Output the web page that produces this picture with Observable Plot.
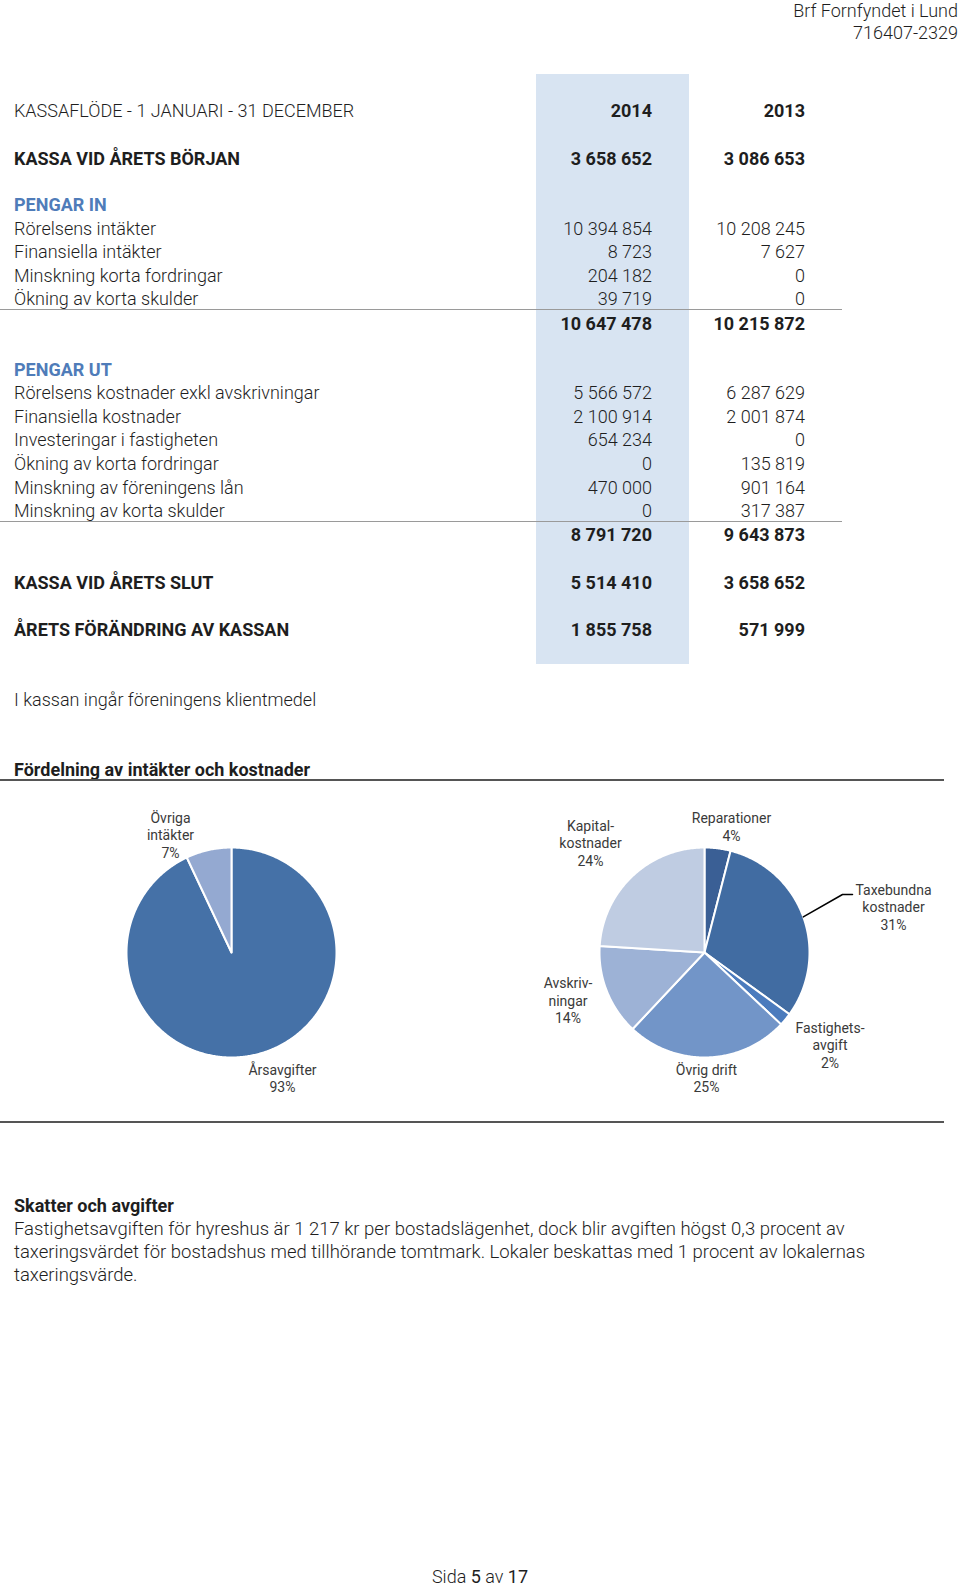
<!DOCTYPE html>
<html>
<head>
<meta charset="utf-8">
<script src="https://cdn.jsdelivr.net/npm/d3@7"></script>
<script src="https://cdn.jsdelivr.net/npm/@observablehq/plot@0.6"></script>
<style>
  html, body { margin: 0; padding: 0; background: #fff; }
  #page { position: relative; width: 960px; height: 1587px; overflow: hidden; font-family: Roboto, "Open Sans", sans-serif; color: #1e1e1e; }
  .t { position: absolute; white-space: nowrap; height: 24px; line-height: 24px; font-size: 18px; font-weight: 300; }
  .b { font-weight: 700; }
  .blue { color: #4f7cb9; font-weight: 700; }
  .r { text-align: right; }
  .p { font-size: 18.5px; }
  .hd { height: 20px; line-height: 20px; }
  .hr { position: absolute; left: 0; }
  #pies { position: absolute; left: 0; top: 785px; }
</style>
</head>
<body>
<div id="page"></div>
<script>
// ---------- data ----------
const years = ["2014", "2013"];
const openingCash = [3658652, 3086653];
const inLabels = ["Rörelsens intäkter", "Finansiella intäkter", "Minskning korta fordringar", "Ökning av korta skulder"];
const in2014 = [10394854, 8723, 204182, 39719];
const in2013 = [10208245, 7627, 0, 0];
const inTotal = [10647478, 10215872];
const outLabels = ["Rörelsens kostnader exkl avskrivningar", "Finansiella kostnader", "Investeringar i fastigheten", "Ökning av korta fordringar", "Minskning av föreningens lån", "Minskning av korta skulder"];
const out2014 = [5566572, 2100914, 654234, 0, 470000, 0];
const out2013 = [6287629, 2001874, 0, 135819, 901164, 317387];
const outTotal = [8791720, 9643873];
const closingCash = [5514410, 3658652];
const cashChange = [1855758, 571999];

const incomeCats = ["Årsavgifter", "Övriga intäkter"];
const incomeLabels = ["Årsavgifter", "Övriga\nintäkter"];
const incomeValues = [93, 7];
const costCats = ["Reparationer", "Taxebundna kostnader", "Fastighetsavgift", "Övrig drift", "Avskrivningar", "Kapitalkostnader"];
const costLabels = ["Reparationer", "Taxebundna\nkostnader", "Fastighets-\navgift", "Övrig drift", "Avskriv-\nningar", "Kapital-\nkostnader"];
const costValues = [4, 31, 2, 25, 14, 24];

// ---------- styles / layout ----------
const incomeColors = ["#4571a7", "#94a9d1"];
const costColors = ["#3a5f95", "#416ca2", "#4b7bbd", "#7295c8", "#9db2d6", "#bfcce2"];

const page = document.getElementById("page");
const fmt = v => d3.format(",")(v).replace(/,/g, " ");

function txt(s, x, y, cls = "", align = "left", w = 400) {
  const d = document.createElement("div");
  d.className = "t " + cls;
  d.textContent = s;
  const half = cls.includes("hd") ? 10 : 12;
  d.style.top = (y - half + 1.5) + "px";
  if (align === "right") { d.style.left = (x - w) + "px"; d.style.width = w + "px"; d.classList.add("r"); }
  else if (align === "center") { d.style.left = (x - w / 2) + "px"; d.style.width = w + "px"; d.style.textAlign = "center"; }
  else d.style.left = x + "px";
  page.appendChild(d);
  return d;
}
function rect(x, y, w, h, color) {
  const d = document.createElement("div");
  d.className = "hr";
  Object.assign(d.style, { left: x + "px", top: y + "px", width: w + "px", height: h + "px", background: color });
  page.appendChild(d);
}

// highlighted column
rect(536, 74, 153, 590, "#d8e4f2");

// header
txt("Brf Fornfyndet i Lund", 958, 9, "hd", "right");
txt("716407-2329", 958, 31, "hd", "right");

const LX = 14, C1 = 652, C2 = 805;
function row(label, y, v, cls = "", labelCls = cls) {
  txt(label, LX, y, labelCls);
  if (v) { txt(v[0], C1, y, cls, "right", 150); txt(v[1], C2, y, cls, "right", 150); }
}
row("KASSAFLÖDE - 1 JANUARI - 31 DECEMBER", 109, years, "b", "");
row("KASSA VID ÅRETS BÖRJAN", 157, openingCash.map(fmt), "b");
row("PENGAR IN", 203, null, "blue");
const inY = [227, 250, 274, 297];
inLabels.forEach((l, i) => row(l, inY[i], [fmt(in2014[i]), fmt(in2013[i])]));
rect(0, 309, 842, 1, "#9a9a9a");
row("", 322, inTotal.map(fmt), "b");
row("PENGAR UT", 368, null, "blue");
const outY = [391, 415, 438, 462, 486, 509];
outLabels.forEach((l, i) => row(l, outY[i], [fmt(out2014[i]), fmt(out2013[i])]));
rect(0, 521, 842, 1, "#9a9a9a");
row("", 533, outTotal.map(fmt), "b");
row("KASSA VID ÅRETS SLUT", 581, closingCash.map(fmt), "b");
row("ÅRETS FÖRÄNDRING AV KASSAN", 628, cashChange.map(fmt), "b");

txt("I kassan ingår föreningens klientmedel", LX, 698);
txt("Fördelning av intäkter och kostnader", LX, 768, "b");
rect(0, 779, 944, 2, "#555");
rect(0, 1121, 944, 2, "#555");

txt("Skatter och avgifter", LX, 1204, "b");
txt("Fastighetsavgiften för hyreshus är 1 217 kr per bostadslägenhet, dock blir avgiften högst 0,3 procent av", LX, 1227, "p");
txt("taxeringsvärdet för bostadshus med tillhörande tomtmark. Lokaler beskattas med 1 procent av lokalernas", LX, 1250, "p");
txt("taxeringsvärde.", LX, 1273, "p");

const foot = txt("", 480, 1575, "", "center", 200);
foot.innerHTML = 'Sida <b>5</b> av <b>17</b>';

// ---------- pies ----------
const H = 325;
const R = 105;
const pies = [
  { cx: 231, cy: 167, cats: incomeCats, labels: incomeLabels, values: incomeValues,
    labelPos: [[282, 292.5], [170, 49]] },
  { cx: 704, cy: 167, cats: costCats, labels: costLabels, values: costValues,
    labelPos: [[731, 41], [893, 121], [829.5, 259], [706, 292.5], [567.5, 214.5], [590, 57]] }
];

const slicePts = [];
const labelRows = [];
let leader = [];
for (const p of pies) {
  const arcs = d3.pie().sort(null).value(d => d)(p.values);
  arcs.forEach((a, i) => {
    const cat = p.cats[i];
    slicePts.push({ cat, x: p.cx, y: p.cy });
    const n = Math.max(2, Math.ceil((a.endAngle - a.startAngle) / 0.01));
    for (let k = 0; k <= n; k++) {
      const t = a.startAngle + (a.endAngle - a.startAngle) * k / n;
      slicePts.push({ cat, x: p.cx + R * Math.sin(t), y: p.cy - R * Math.cos(t) });
    }
    slicePts.push({ cat, x: p.cx, y: p.cy });
    const [lx, ly] = p.labelPos[i];
    labelRows.push({ x: lx, y: ly, text: `${p.labels[i]}\n${p.values[i]}%` });
    if (cat === "Taxebundna kostnader") {
      const m = (a.startAngle + a.endAngle) / 2;
      leader = [
        { x: p.cx + R * Math.sin(m), y: p.cy - R * Math.cos(m) },
        { x: lx - 51, y: ly - 12 },
        { x: lx - 41, y: ly - 12 }
      ];
    }
  });
}

const chart = Plot.plot({
  width: 960,
  height: H,
  margin: 0,
  x: { domain: [0, 960], range: [0, 960], axis: null },
  y: { domain: [0, H], range: [0, H], axis: null },
  color: { domain: [...incomeCats, ...costCats], range: [...incomeColors, ...costColors] },
  style: { fontFamily: "Roboto, 'Open Sans', sans-serif", background: "transparent" },
  marks: [
    Plot.line(slicePts, { x: "x", y: "y", z: "cat", fill: "cat", stroke: "white", strokeWidth: 2, strokeLinejoin: "round" }),
    Plot.line(leader, { x: "x", y: "y", stroke: "#000", strokeWidth: 1.5 }),
    Plot.text(labelRows, { x: "x", y: "y", text: "text", fontSize: 14, lineHeight: 1.25, fill: "#3a3a3a" })
  ]
});
chart.id = "pies";
page.appendChild(chart);
</script>
</body>
</html>
